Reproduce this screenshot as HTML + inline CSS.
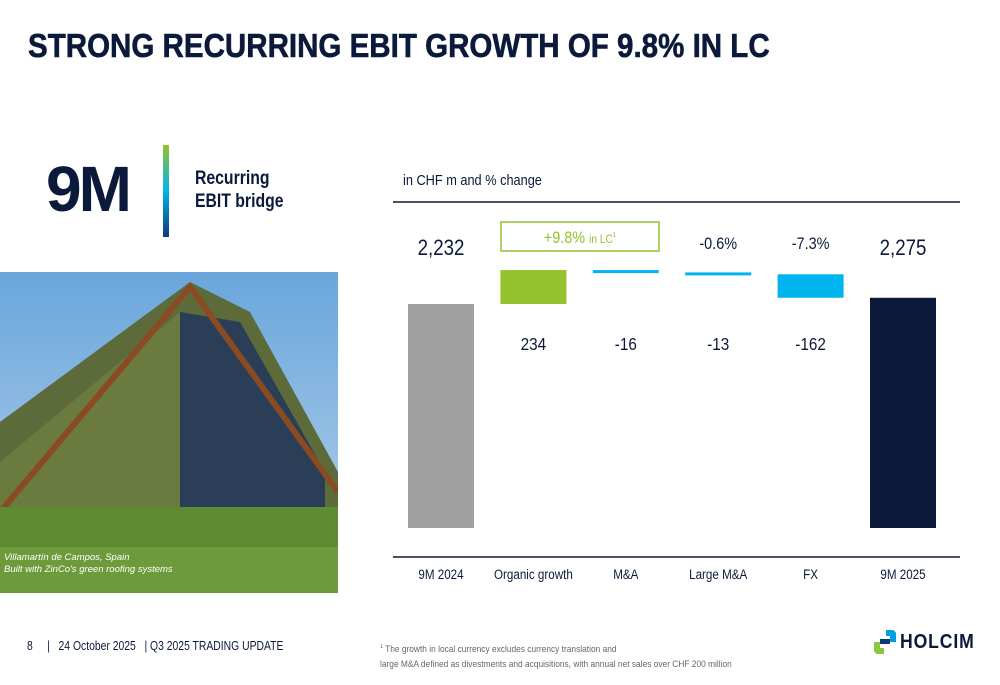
<!DOCTYPE html>
<html><head><meta charset="utf-8">
<style>
body{margin:0;width:1000px;height:685px;background:#fff;font-family:"Liberation Sans",sans-serif;color:#0b1a3a;position:relative;overflow:hidden}
.abs{position:absolute;transform-origin:0 0;white-space:nowrap}
</style></head><body>
<div class="abs" style="left:28px;top:27px;font-size:33px;font-weight:bold;color:#0b1a3a;transform:scaleX(0.895);-webkit-text-stroke:0.6px #0b1a3a">STRONG RECURRING EBIT GROWTH OF 9.8% IN LC</div>
<div class="abs" style="left:46px;top:153px;font-size:64px;font-weight:bold;letter-spacing:-3px;line-height:72px">9M</div>
<div class="abs" style="left:163px;top:145px;width:6px;height:92px;background:linear-gradient(#94c12e,#00b5e8 50%,#0b3a7a)"></div>
<div class="abs" style="left:195px;top:167px;font-size:19px;font-weight:bold;line-height:23px;transform:scaleX(0.83)">Recurring<br>EBIT bridge</div>
<svg class="abs" style="left:0;top:272px" width="338" height="321">
<defs><linearGradient id="sky" x1="0" y1="0" x2="0" y2="1"><stop offset="0" stop-color="#6aa6dc"/><stop offset="1" stop-color="#b8d4ea"/></linearGradient></defs>
<rect width="338" height="321" fill="url(#sky)"/>
<polygon points="0,150 190,10 250,40 338,200 338,321 0,321" fill="#5d6b3a"/>
<polygon points="180,40 240,50 325,200 325,250 180,250" fill="#2a3e58"/>
<polygon points="0,190 180,40 180,250 0,250" fill="#6b7a3e"/>
<polyline points="0,240 190,15 338,220" fill="none" stroke="#8a4a22" stroke-width="6"/>
<rect y="235" width="338" height="86" fill="#5e8a32"/>
<rect y="275" width="338" height="46" fill="#6d9a3a"/>
<text x="4" y="288" font-size="9.5" font-style="italic" fill="#fff" font-family="Liberation Sans">Villamartín de Campos, Spain</text>
<text x="4" y="300" font-size="9.5" font-style="italic" fill="#fff" font-family="Liberation Sans">Built with ZinCo's green roofing systems</text>
</svg>
<div class="abs" style="left:403px;top:172px;font-size:15px;transform:scaleX(0.85)">in CHF m and % change</div>
<svg class="abs" id="chart" style="left:0;top:0" width="1000" height="600"></svg>
<div class="abs" style="left:27px;top:639px;font-size:12.5px;transform:scaleX(0.83)">8 &nbsp;&nbsp;&nbsp;&nbsp;| &nbsp;&nbsp;24 October 2025 &nbsp;&nbsp;| Q3 2025 TRADING UPDATE</div>
<div class="abs" style="left:380px;top:640px;font-size:9.5px;color:#666;line-height:15px;transform:scaleX(0.88)"><sup style="font-size:6px">1</sup> The growth in local currency excludes currency translation and<br>large M&amp;A defined as divestments and acquisitions, with annual net sales over CHF 200 million</div>
<div class="abs" style="left:872px;top:627px;width:110px;height:30px">
<svg width="26" height="30" style="position:absolute;left:0;top:0"><path d="M14 3 h6 a4 4 0 0 1 4 4 v8 h-6 v-6 h-4z" fill="#00a0e0"/><path d="M12 27 h-6 a4 4 0 0 1 -4 -4 v-8 h6 v6 h4z" fill="#8cc63f"/><rect x="8" y="12" width="10" height="5" fill="#0b3a7a"/></svg>
<span style="position:absolute;left:28px;top:4px;font-size:20px;font-weight:bold;letter-spacing:1px;transform:scaleX(0.88);transform-origin:0 0">HOLCIM</span></div>
<script>
const categories=["9M 2024","Organic growth","M&A","Large M&A","FX","9M 2025"];
const values=[2232,234,-16,-13,-162,2275];
const kinds=["total","delta","delta","delta","delta","total"];
const valueLabels=["2,232","234","-16","-13","-162","2,275"];
const pctLabels=["","","","-0.6%","-7.3%",""];
const svg=document.getElementById('chart');
const NS="http://www.w3.org/2000/svg";
const base=2232,baseY=304,k=0.145,floorY=528;
function y(v){return baseY-(v-base)*k;}
function x(i){return 408+i*92.4;}
const bw=66;
function mk(tag,attrs,parent){const e=document.createElementNS(NS,tag);for(const a in attrs)e.setAttribute(a,attrs[a]);(parent||svg).appendChild(e);return e;}
function txt(cx,cy,size,fill,str,sx){const g=mk('g',{transform:'translate('+cx+','+cy+') scale('+sx+',1)'});const t=mk('text',{x:0,y:0,'text-anchor':'middle','font-size':size,fill:fill,'font-family':'Liberation Sans'},g);t.textContent=str;return t;}
let l=mk('line',{x1:393,x2:960,y1:202,y2:202,stroke:'#4a5068','stroke-width':2});


l=mk('line',{x1:393,x2:960,y1:557,y2:557,stroke:'#4a5068','stroke-width':2});


let run=0;
values.forEach((v,i)=>{
  let top,bot,fill;
  if(kinds[i]==='total'){run=v;top=y(v);bot=floorY;fill=i===0?'#a0a0a0':'#0b1a3a';}
  else{const a=y(run),b=y(run+v);run+=v;top=Math.min(a,b);bot=Math.max(a,b);fill=v>0?'#94c12e':'#00b5ee';if(bot-top<3)bot=top+3;}
  const r=mk('rect',{x:x(i),y:top,width:bw,height:bot-top,fill:fill});
  
  
  const cx=x(i)+bw/2;
  const t=txt(cx,kinds[i]==='total'?255:350,kinds[i]==='total'?22:18,'#0b1a3a',valueLabels[i],0.85);
  
  
  if(pctLabels[i]){const p=txt(cx,249,17,'#0b1a3a',pctLabels[i],0.85);
  
  }
  const c=txt(cx,579,14,'#0b1a3a',categories[i],0.83);
  
  
});
const box=mk('rect',{x:501,y:222,width:158,height:29,fill:'none',stroke:'#94c12e','stroke-width':1.5});


const bg=mk('g',{transform:'translate(580,243) scale(0.85,1)'});
const bt=mk('text',{x:0,y:0,'text-anchor':'middle','font-size':17,fill:'#94c12e','font-family':'Liberation Sans'},bg);
bt.innerHTML='+9.8% <tspan font-size="12">in LC</tspan><tspan font-size="7" dy="-6">1</tspan>';


</script>
</body></html>
